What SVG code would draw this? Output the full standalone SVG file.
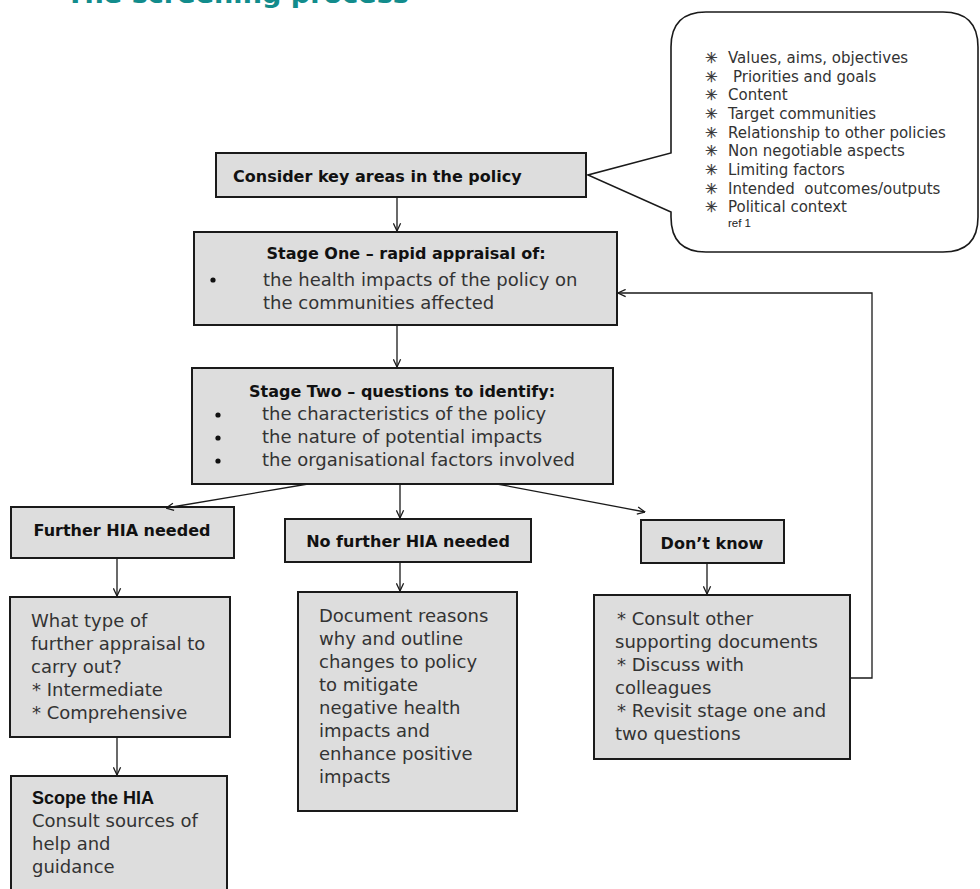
<svg xmlns="http://www.w3.org/2000/svg" width="980" height="889" viewBox="0 0 980 889">
<style>
.box{fill:#dddddd;stroke:#1a1a1a;stroke-width:2}
.ttl{font-family:"DejaVu Sans",sans-serif;font-weight:bold;font-size:16px;fill:#111}
.body{font-family:"DejaVu Sans",sans-serif;font-size:18px;fill:#333}
.bub{font-family:"DejaVu Sans",sans-serif;font-size:15px;fill:#333}
.sym{font-family:"DejaVu Sans",sans-serif;font-size:15px;fill:#333;stroke:#333;stroke-width:0.3}
.con{fill:none;stroke:#1a1a1a;stroke-width:1.3}
</style>
<defs>
<marker id="arr" viewBox="0 0 10 10" refX="9.5" refY="5" markerWidth="9" markerHeight="9" markerUnits="userSpaceOnUse" orient="auto">
<path d="M1,1 L9.5,5 L1,9" fill="none" stroke="#1a1a1a" stroke-width="1.4"/>
</marker>
</defs>
<rect width="980" height="889" fill="#ffffff"/>
<text id="title" x="66" y="3" font-family="DejaVu Sans, sans-serif" font-weight="bold" font-size="25" fill="#128c8c" textLength="343" lengthAdjust="spacingAndGlyphs">The screening process</text>

<g id="bubble">
<path d="M706,12 H943 Q978,12 978,47 V217 Q978,252 943,252 H706 Q671,252 671,217 V212 L588,175 L671,153 V47 Q671,12 706,12 Z" fill="#ffffff" stroke="#1a1a1a" stroke-width="1.6"/>
<text class="sym" x="705" y="63">✳</text><text class="bub" x="728" y="63">Values, aims, objectives</text>
<text class="sym" x="705" y="82">✳</text><text class="bub" x="733" y="82">Priorities and goals</text>
<text class="sym" x="705" y="100">✳</text><text class="bub" x="728" y="100">Content</text>
<text class="sym" x="705" y="119">✳</text><text class="bub" x="728" y="119">Target communities</text>
<text class="sym" x="705" y="138">✳</text><text class="bub" x="728" y="138">Relationship to other policies</text>
<text class="sym" x="705" y="156">✳</text><text class="bub" x="728" y="156">Non negotiable aspects</text>
<text class="sym" x="705" y="175">✳</text><text class="bub" x="728" y="175">Limiting factors</text>
<text class="sym" x="705" y="194">✳</text><text class="bub" x="728" y="194" xml:space="preserve">Intended  outcomes/outputs</text>
<text class="sym" x="705" y="212">✳</text><text class="bub" x="728" y="212">Political context</text>
<text x="728" y="227" font-family="Liberation Sans, Arial, sans-serif" font-size="11.5" fill="#222">ref 1</text>
</g>

<g id="consider">
<rect class="box" x="216" y="153" width="370" height="44"/>
<text class="ttl" x="233" y="182">Consider key areas in the policy</text>
</g>

<g id="stage-one">
<rect class="box" x="194" y="232" width="423" height="93"/>
<text class="ttl" x="406" y="259" text-anchor="middle">Stage One – rapid appraisal of:</text>
<circle cx="213" cy="280" r="2.6" fill="#111"/>
<text class="body" x="263" y="286">the health impacts of the policy on</text>
<text class="body" x="263" y="309">the communities affected</text>
</g>

<g id="stage-two">
<rect class="box" x="192" y="368" width="421" height="116"/>
<text class="ttl" x="402" y="397" text-anchor="middle" font-size="15.5">Stage Two – questions to identify:</text>
<circle cx="218" cy="415" r="2.6" fill="#111"/>
<text class="body" x="262" y="420">the characteristics of the policy</text>
<circle cx="218" cy="438" r="2.6" fill="#111"/>
<text class="body" x="262" y="443">the nature of potential impacts</text>
<circle cx="218" cy="461" r="2.6" fill="#111"/>
<text class="body" x="262" y="466">the organisational factors involved</text>
</g>

<g id="further">
<rect class="box" x="11" y="507" width="223" height="51"/>
<text class="ttl" x="122" y="536" text-anchor="middle">Further HIA needed</text>
</g>

<g id="no-further">
<rect class="box" x="285" y="519" width="246" height="43"/>
<text class="ttl" x="408" y="547" text-anchor="middle" font-size="15.5">No further HIA needed</text>
</g>

<g id="dont-know">
<rect class="box" x="641" y="520" width="143" height="43"/>
<text class="ttl" x="712" y="549" text-anchor="middle" font-size="15.5">Don’t know</text>
</g>

<g id="what-type">
<rect class="box" x="10" y="597" width="220" height="140"/>
<text class="body" x="31" y="627">What type of</text>
<text class="body" x="31" y="650">further appraisal to</text>
<text class="body" x="31" y="673">carry out?</text>
<text class="body" x="32" y="696">* Intermediate</text>
<text class="body" x="32" y="719">* Comprehensive</text>
</g>

<g id="scope">
<rect class="box" x="11" y="776" width="216" height="140"/>
<text x="32" y="804" font-family="Liberation Sans, Arial, sans-serif" font-weight="bold" font-size="18" fill="#111">Scope the HIA</text>
<text class="body" x="32" y="827">Consult sources of</text>
<text class="body" x="32" y="850">help and</text>
<text class="body" x="32" y="873">guidance</text>
</g>

<g id="document">
<rect class="box" x="298" y="592" width="219" height="219"/>
<text class="body" x="319" y="622">Document reasons</text>
<text class="body" x="319" y="645">why and outline</text>
<text class="body" x="319" y="668">changes to policy</text>
<text class="body" x="319" y="691">to mitigate</text>
<text class="body" x="319" y="714">negative health</text>
<text class="body" x="319" y="737">impacts and</text>
<text class="body" x="319" y="760">enhance positive</text>
<text class="body" x="319" y="783">impacts</text>
</g>

<g id="consult">
<rect class="box" x="594" y="595" width="256" height="164"/>
<text class="body" x="617" y="625">* Consult other</text>
<text class="body" x="615" y="648">supporting documents</text>
<text class="body" x="617" y="671">* Discuss with</text>
<text class="body" x="615" y="694">colleagues</text>
<text class="body" x="617" y="717">* Revisit stage one and</text>
<text class="body" x="615" y="740">two questions</text>
</g>

<g id="connectors">
<line class="con" x1="397" y1="197" x2="397" y2="231" marker-end="url(#arr)"/>
<line class="con" x1="397" y1="325" x2="397" y2="367" marker-end="url(#arr)"/>
<line class="con" x1="308" y1="484" x2="166" y2="508" marker-end="url(#arr)"/>
<line class="con" x1="400" y1="484" x2="400" y2="518" marker-end="url(#arr)"/>
<line class="con" x1="497" y1="484" x2="645" y2="512" marker-end="url(#arr)"/>
<line class="con" x1="117" y1="558" x2="117" y2="596" marker-end="url(#arr)"/>
<line class="con" x1="117" y1="737" x2="117" y2="775" marker-end="url(#arr)"/>
<line class="con" x1="400" y1="562" x2="400" y2="591" marker-end="url(#arr)"/>
<line class="con" x1="707" y1="563" x2="707" y2="594" marker-end="url(#arr)"/>
<polyline class="con" stroke-width="1.7" points="850,678 872,678 872,293 618,293" marker-end="url(#arr)"/>
</g>
</svg>
